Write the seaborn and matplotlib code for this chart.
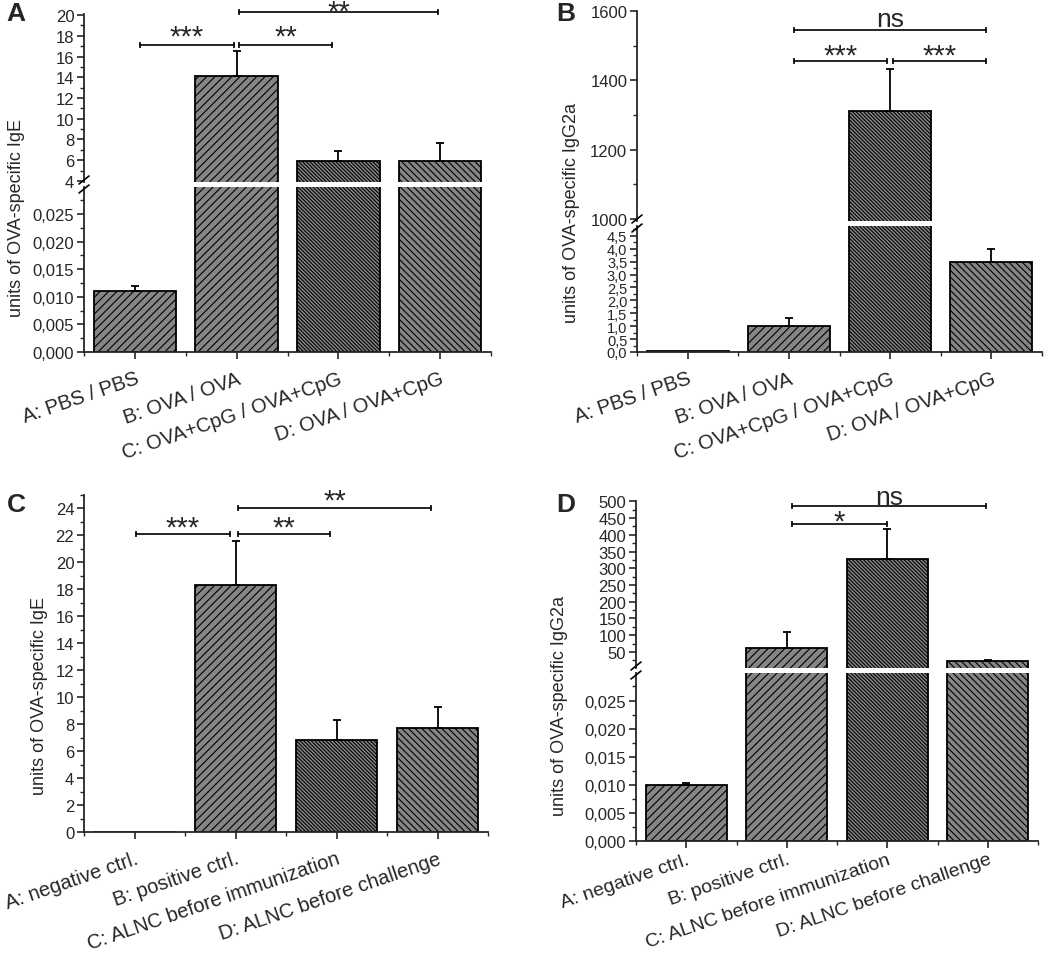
import numpy as np
import matplotlib
matplotlib.use('Agg')
import matplotlib.pyplot as plt
from matplotlib.lines import Line2D
from matplotlib.ticker import MultipleLocator, FuncFormatter
import seaborn as sns

# group labels
labels_ab = ['A: PBS / PBS', 'B: OVA / OVA', 'C: OVA+CpG / OVA+CpG', 'D: OVA / OVA+CpG']
labels_cd = ['A: negative ctrl.', 'B: positive ctrl.', 'C: ALNC before immunization',
             'D: ALNC before challenge']

# panel A: IgE (mean, mean + error)
ige_ab = [0.011, 14.1, 5.9, 5.95]
ige_ab_top = [0.012, 16.5, 6.9, 7.7]
# panel B: IgG2a
igg_ab = [0.02, 1.0, 1312, 3.5]
igg_ab_top = [0.02, 1.3, 1433, 4.0]
# panel C: IgE
ige_cd = [0.0, 18.3, 6.85, 7.75]
ige_cd_top = [0.0, 21.6, 8.3, 9.3]
# panel D: IgG2a
igg_cd = [0.01, 62, 327, 22]
igg_cd_top = [0.0104, 110, 416, 27]

# significance brackets: (text, x1, x2, bracket y, top of text)
sig_a = [('***', 0.05, 0.97, 17.1, 19.25), ('**', 1.02, 1.94, 17.1, 19.25), ('**', 1.02, 2.98, 20.3, 21.7)]
sig_b = [('***', 1.05, 1.97, 1457, 1513), ('***', 2.03, 2.95, 1457, 1513), ('ns', 1.05, 2.95, 1546, 1611)]
sig_c = [('***', 0.01, 0.95, 22.14, 23.6), ('**', 1.02, 1.94, 22.14, 23.6), ('**', 1.02, 2.94, 24.07, 25.65)]
sig_d = [('*', 1.05, 2.0, 431, 481), ('ns', 1.05, 2.98, 485, 550)]

HATCHES = ['////', '////', '\\' * 9, '\\' * 5]
FILL = '#858585'

sns.set_style('ticks')
plt.rcParams['font.family'] = ['Liberation Sans', 'DejaVu Sans']
plt.rcParams['hatch.linewidth'] = 0.8

W, H = 1050, 954
fig = plt.figure(figsize=(W / 100, H / 100), dpi=100)


def px_axes(left, top, right, bottom):
    return fig.add_axes([left / W, 1 - bottom / H, (right - left) / W, (bottom - top) / H])


def draw_bars(ax, labels, vals, tops, ylim):
    sns.barplot(x=labels, y=vals, ax=ax, color=FILL, edgecolor='black', linewidth=1.3,
                width=0.81, saturation=1, errorbar=None)
    for patch, h in zip(ax.patches, HATCHES):
        patch.set_hatch(h)
    v = np.array(vals, dtype=float)
    t = np.array(tops, dtype=float)
    # only the error bars whose cap falls inside this segment of the broken axis
    keep = (v >= ylim[0]) & (t <= ylim[1]) & (t > v)
    pos = np.arange(len(v))
    if keep.any():
        ax.errorbar(pos[keep], v[keep], yerr=[np.zeros(keep.sum()), (t - v)[keep]], fmt='none',
                    ecolor='black', elinewidth=1.3, capsize=3, capthick=1.3)
    ax.set_ylim(*ylim)
    ax.set_xlim(-0.5, 3.5)
    ax.set_xlabel('')
    ax.set_ylabel('')


def style(ax, part, fmt, major, minor, fs=12, xpad=7, xfs=14.5):
    for s in ['top', 'right']:
        ax.spines[s].set_visible(False)
    for s in ['left', 'bottom']:
        ax.spines[s].set_linewidth(1.3)
    ax.yaxis.set_major_locator(MultipleLocator(major))
    ax.yaxis.set_minor_locator(MultipleLocator(minor))
    ax.yaxis.set_major_formatter(FuncFormatter(fmt))
    ax.tick_params(axis='y', which='major', length=5, width=1.2, labelsize=fs, pad=2)
    ax.tick_params(axis='y', which='minor', length=3, width=1.0)
    if part == 'upper':
        ax.spines['bottom'].set_visible(False)
        ax.tick_params(axis='x', which='both', bottom=False, labelbottom=False)
    else:
        ax.set_xticks([-0.5, 0.5, 1.5, 2.5, 3.5], minor=True)
        ax.tick_params(axis='x', which='major', length=5, width=1.2, labelsize=xfs, pad=xpad)
        ax.tick_params(axis='x', which='minor', length=3, width=1.0)
        plt.setp(ax.get_xticklabels(), rotation=19, ha='right', rotation_mode='anchor')


def brackets(ax, sigs):
    for txt, x1, x2, y, ty in sigs:
        ax.plot([x1, x2], [y, y], color='black', lw=1.2, marker='|', ms=5, mew=1.2, clip_on=False)
        fs = 21 if '*' in txt else 19
        ax.text((x1 + x2) / 2, ty, txt, ha='center', va='top', fontsize=fs, clip_on=False)


def break_marks(x, y_up, y_lo):
    for y in (y_up, y_lo):
        fig.add_artist(Line2D([(x - 5) / W, (x + 5) / W], [1 - (y + 4) / H, 1 - (y - 4) / H],
                              color='black', lw=1.2))


def comma(decimals):
    return lambda v, p: f'{v:.{decimals}f}'.replace('.', ',')


# ---- panel A ----
a_up = px_axes(84, 15, 491, 183)
a_lo = px_axes(84, 188, 491, 353)
draw_bars(a_up, labels_ab, ige_ab, ige_ab_top, (3.9, 20.1))
draw_bars(a_lo, labels_ab, ige_ab, ige_ab_top, (0, 0.0299))
style(a_up, 'upper', comma(0), 2, 1)
style(a_lo, 'lower', comma(3), 0.005, 0.0025)
brackets(a_up, sig_a)
break_marks(84, 181, 190)

# ---- panel B ----
b_up = px_axes(637, 12, 1042, 222)
b_lo = px_axes(637, 227, 1042, 353)
draw_bars(b_up, labels_ab, igg_ab, igg_ab_top, (994, 1600))
draw_bars(b_lo, labels_ab, igg_ab, igg_ab_top, (0, 4.88))
style(b_up, 'upper', comma(0), 200, 100)
style(b_lo, 'lower', comma(1), 0.5, 0.25, fs=10.5)
brackets(b_up, sig_b)
break_marks(637, 220, 229)

# ---- panel C ----
c_ax = px_axes(84, 496, 488, 833)
draw_bars(c_ax, labels_cd, ige_cd, ige_cd_top, (0, 25))
style(c_ax, 'lower', comma(0), 2, 1)
brackets(c_ax, sig_c)

# ---- panel D ----
d_up = px_axes(636, 502, 1038, 669)
d_lo = px_axes(636, 674, 1038, 842)
draw_bars(d_up, labels_cd, igg_cd, igg_cd_top, (2, 501))
draw_bars(d_lo, labels_cd, igg_cd, igg_cd_top, (0, 0.0299))
style(d_up, 'upper', comma(0), 50, 25)
d_up.set_yticks([50, 100, 150, 200, 250, 300, 350, 400, 450, 500])
style(d_lo, 'lower', comma(3), 0.005, 0.0025, xpad=2, xfs=14)
brackets(d_up, sig_d)
break_marks(636, 667, 676)

# axis titles and panel letters
ylab_kw = dict(rotation=90, ha='center', va='center', fontsize=13)
fig.text(17 / W, 1 - 218 / H, 'units of OVA-specific IgE', **ylab_kw)
fig.text(572 / W, 1 - 213 / H, 'units of OVA-specific IgG2a', **ylab_kw)
fig.text(40 / W, 1 - 696 / H, 'units of OVA-specific IgE', **ylab_kw)
fig.text(560 / W, 1 - 706 / H, 'units of OVA-specific IgG2a', **ylab_kw)

letter_kw = dict(ha='center', va='center', fontsize=19, fontweight='bold')
fig.text(16 / W, 1 - 14 / H, 'A', **letter_kw)
fig.text(566 / W, 1 - 14 / H, 'B', **letter_kw)
fig.text(16 / W, 1 - 505 / H, 'C', **letter_kw)
fig.text(566 / W, 1 - 505 / H, 'D', **letter_kw)

fig.savefig('out.png', dpi=100)
